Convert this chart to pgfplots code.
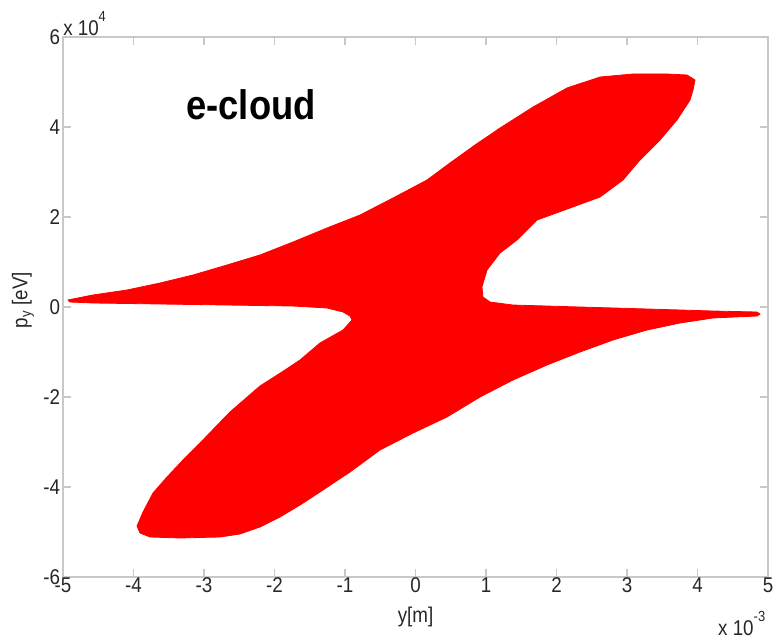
\documentclass[border=0pt]{standalone}
\usepackage{fontspec}
\setmainfont{Liberation Sans}[FakeStretch=0.88]
\usepackage{pgfplots}
\pgfplotsset{compat=1.18}
\definecolor{axgray}{RGB}{200,200,200}
\newcommand{\sups}[1]{\raisebox{0.62em}{\fontsize{11}{12}\selectfont #1}}
\begin{document}
\begin{tikzpicture}
\begin{axis}[
  at={(0,0)}, anchor=south west,
  scale only axis, width=528.75pt, height=405pt,
  xmin=-5, xmax=5, ymin=-6, ymax=6,
  xtick={-5,-4,-3,-2,-1,0,1,2,3,4,5},
  xticklabels={-5,-4,-3,-2,-1,0,1,2,3,4,5},
  ytick={-6,-4,-2,0,2,4,6},
  yticklabels={-6,-4,-2,0,2,4,6},
  tick align=inside, major tick length=6pt,
  axis line style={axgray, line width=1pt},
  every tick/.style={axgray, line width=1pt},
  ticklabel style={font=\fontsize{16}{18}\selectfont, text=black!85},
  xticklabel style={inner sep=0.5pt},
  yticklabel style={inner sep=2pt},
  xlabel={y[m]},
  xlabel style={at={(axis description cs:0.5,-0.074)}, anchor=center, font=\fontsize{16}{18}\selectfont, text=black!85},
  ylabel={p\textsubscript{y} [eV]},
  ylabel style={at={(axis description cs:-0.0567,0.513)}, anchor=center, font=\fontsize{16}{18}\selectfont, text=black!85},
  clip=false,
]
\addplot[fill=red, draw=red, line width=0.6pt, line join=round] coordinates {
(-4.929,0.156) (-4.574,0.267) (-4.092,0.378) (-3.624,0.533) (-3.156,0.711)
(-2.674,0.933) (-2.206,1.156) (-1.738,1.444) (-1.255,1.756) (-0.787,2.044)
(-0.319,2.422) (0.163,2.822) (0.489,3.200) (0.844,3.600) (1.199,3.978)
(1.667,4.444) (2.149,4.867) (2.617,5.111) (3.085,5.178) (3.567,5.178)
(3.851,5.156) (3.965,5.044) (3.936,4.822) (3.894,4.600) (3.709,4.156)
(3.468,3.711) (3.184,3.267) (2.943,2.822) (2.617,2.444) (2.191,2.200)
(1.723,1.933) (1.440,1.489) (1.199,1.200) (1.014,0.822) (0.943,0.444)
(0.957,0.222) (1.057,0.111) (1.383,0.044) (2.333,0.000) (3.284,-0.044)
(4.220,-0.089) (4.844,-0.111) (4.887,-0.156) (4.844,-0.200) (4.220,-0.244)
(3.752,-0.356) (3.284,-0.511) (2.801,-0.733) (2.333,-1.000) (1.865,-1.289)
(1.383,-1.622) (0.915,-2.000) (0.447,-2.444) (-0.035,-2.800) (-0.504,-3.178)
(-0.929,-3.667) (-1.355,-4.111) (-1.638,-4.400) (-1.922,-4.667) (-2.206,-4.889)
(-2.489,-5.044) (-2.773,-5.111) (-3.340,-5.133) (-3.766,-5.111) (-3.908,-5.022)
(-3.950,-4.867) (-3.865,-4.556) (-3.723,-4.133) (-3.525,-3.778) (-3.298,-3.400)
(-3.057,-3.022) (-2.631,-2.333) (-2.206,-1.756) (-1.851,-1.400) (-1.638,-1.178)
(-1.355,-0.800) (-1.028,-0.511) (-0.901,-0.289) (-0.929,-0.200) (-1.028,-0.111)
(-1.255,-0.022) (-1.738,0.022) (-2.674,0.044) (-3.624,0.067) (-4.574,0.089)
(-4.901,0.111)
} -- cycle;
\node[font=\fontsize{31}{36}\selectfont\bfseries, anchor=center] at (axis cs:-2.333,4.489) {e-cloud};
\node[anchor=base west, inner sep=0pt, font=\fontsize{16}{18}\selectfont, text=black!85] at (axis description cs:0,1.0037) {x 10\sups{4}};
\node[anchor=base west, inner sep=0pt, font=\fontsize{16}{18}\selectfont, text=black!85] at (axis description cs:0.929,-0.1074) {x 10\sups{-3}};
\end{axis}
\pgfresetboundingbox
\path[use as bounding box] (-47.25pt,-47.25pt) rectangle (533.25pt,432.75pt);
\end{tikzpicture}
\end{document}
